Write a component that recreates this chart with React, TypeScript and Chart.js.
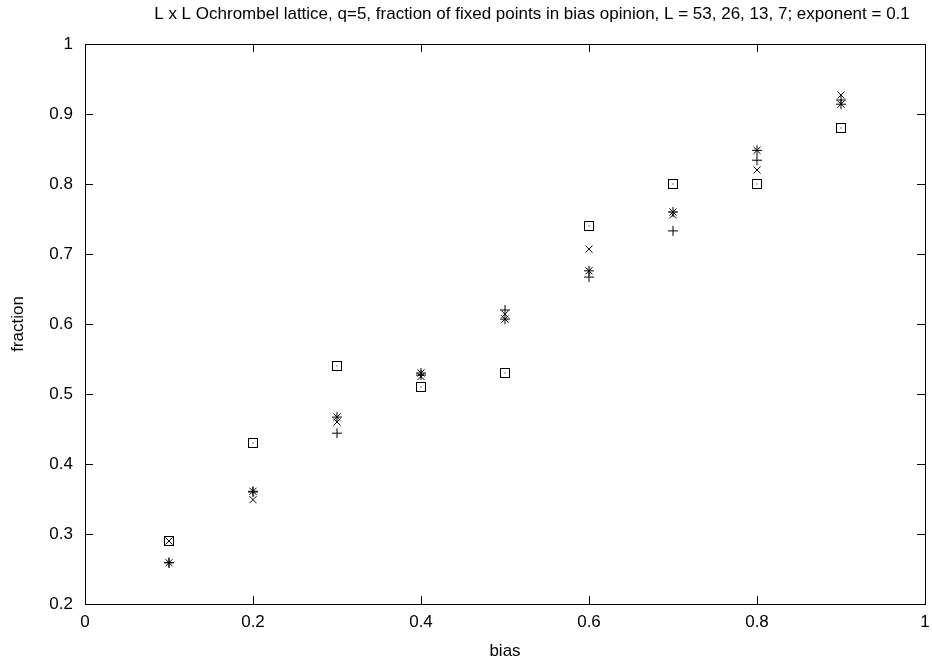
import React, { useEffect, useRef } from "react";
import { Chart, registerables } from "chart.js";

Chart.register(...registerables);

const titleText =
  "L x L Ochrombel lattice, q=5, fraction of fixed points in bias opinion, L = 53, 26, 13, 7; exponent = 0.1";
const bias = [0.1, 0.2, 0.3, 0.4, 0.5, 0.6, 0.7, 0.8, 0.9];
const seriesL53 = [0.259, 0.36, 0.444, 0.527, 0.62, 0.667, 0.733, 0.834, 0.92];
const seriesL26 = [0.29, 0.349, 0.46, 0.525, 0.614, 0.707, 0.756, 0.82, 0.927];
const seriesL13 = [0.259, 0.361, 0.467, 0.53, 0.607, 0.676, 0.76, 0.848, 0.914];
const seriesL7 = [0.29, 0.43, 0.54, 0.51, 0.53, 0.74, 0.8, 0.8, 0.88];
const xTicks = [0, 0.2, 0.4, 0.6, 0.8, 1];
const yTicks = [0.2, 0.3, 0.4, 0.5, 0.6, 0.7, 0.8, 0.9, 1];

const FONT = "'Liberation Sans', Arial, sans-serif";
const FS = 17;

function makeSquare(): HTMLCanvasElement {
  const c = document.createElement("canvas");
  c.width = 10;
  c.height = 10;
  const g = c.getContext("2d")!;
  g.strokeStyle = "#000";
  g.lineWidth = 1;
  g.strokeRect(0.5, 0.5, 9, 9);
  g.fillStyle = "#000";
  g.fillRect(4.5, 4.5, 1, 1);
  return c;
}

const framePlugin = {
  id: "frame",
  afterDraw(chart: any) {
    const { ctx, chartArea: a, scales } = chart;
    ctx.save();
    ctx.strokeStyle = "#000";
    ctx.lineWidth = 1;
    ctx.strokeRect(Math.round(a.left) + 0.5, Math.round(a.top) + 0.5, Math.round(a.right - a.left), Math.round(a.bottom - a.top));
    const tl = 8;
    ctx.beginPath();
    for (const v of xTicks) {
      const x = Math.round(scales.x.getPixelForValue(v)) + 0.5;
      ctx.moveTo(x, a.bottom);
      ctx.lineTo(x, a.bottom - tl);
      ctx.moveTo(x, a.top);
      ctx.lineTo(x, a.top + tl);
    }
    for (const v of yTicks) {
      const y = Math.round(scales.y.getPixelForValue(v)) + 0.5;
      ctx.moveTo(a.left, y);
      ctx.lineTo(a.left + tl, y);
      ctx.moveTo(a.right, y);
      ctx.lineTo(a.right - tl, y);
    }
    ctx.stroke();
    ctx.fillStyle = "#000";
    ctx.font = `${FS}px ${FONT}`;
    ctx.textAlign = "center";
    ctx.textBaseline = "middle";
    ctx.fillText(titleText, 532, 14);
    ctx.restore();
  },
};

export default function App() {
  const ref = useRef<HTMLCanvasElement>(null);
  useEffect(() => {
    const sq = makeSquare();
    const mk = (label: string, data: number[], style: any, radius: number) => ({
      label,
      data: bias.map((b, i) => ({ x: b, y: data[i] })),
      pointStyle: style,
      pointRadius: radius,
      borderColor: "#000",
      backgroundColor: "transparent",
      borderWidth: 1,
      showLine: false,
    });
    const chart = new Chart(ref.current!, {
      type: "scatter",
      data: {
        datasets: [
          mk("L=53", seriesL53, "cross", 5),
          mk("L=26", seriesL26, "crossRot", 5),
          mk("L=13", seriesL13, "star", 5),
          mk("L=7", seriesL7, sq, 5),
        ],
      },
      options: {
        animation: false,
        responsive: false,
        layout: { padding: { top: 44, right: 7, left: 0, bottom: 0 } },
        plugins: { legend: { display: false }, tooltip: { enabled: false }, title: { display: false } },
        scales: {
          x: {
            type: "linear",
            min: 0,
            max: 1,
            afterFit: (s: any) => { s.height = 60; s.paddingRight = 0; s.paddingLeft = 0; },
            afterBuildTicks: (s: any) => { s.ticks = xTicks.map((v) => ({ value: v })); },
            grid: { display: false, drawTicks: false },
            border: { display: false },
            ticks: { color: "#000", padding: 8, maxRotation: 0, font: { family: FONT, size: FS }, callback: (v: any) => String(v) },
            title: { display: true, text: "bias", color: "#000", font: { family: FONT, size: FS }, padding: { top: 0, bottom: 2 } },
          },
          y: {
            type: "linear",
            min: 0.2,
            max: 1,
            afterFit: (s: any) => { s.width = 85; s.paddingTop = 0; s.paddingBottom = 0; },
            afterBuildTicks: (s: any) => { s.ticks = yTicks.map((v) => ({ value: v })); },
            grid: { display: false, drawTicks: false },
            border: { display: false },
            ticks: { color: "#000", padding: 12, font: { family: FONT, size: FS }, callback: (v: any) => String(v) },
            title: { display: true, text: "fraction", color: "#000", font: { family: FONT, size: FS }, padding: { top: 8, bottom: 0 } },
          },
        },
      },
      plugins: [framePlugin],
    });
    return () => chart.destroy();
  }, []);
  return (
    <div style={{ position: "fixed", left: 0, top: 0, width: 932, height: 664, background: "#fff" }}>
      <canvas ref={ref} width={932} height={664} />
    </div>
  );
}
